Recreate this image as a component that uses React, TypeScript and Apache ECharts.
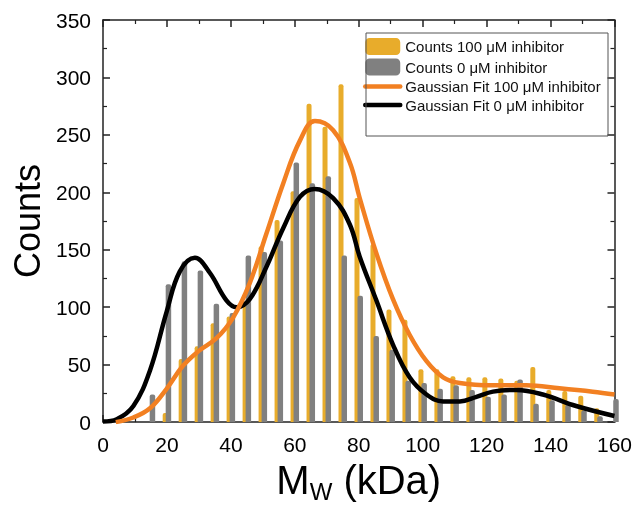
import React, { useEffect, useRef } from "react";
import * as echarts from "echarts";

// Histogram bin centres (kDa)
const binCenters = [15, 20, 25, 30, 35, 40, 45, 50, 55, 60, 65, 70, 75, 80, 85, 90, 95, 100, 105, 110, 115, 120, 125, 130, 135, 140, 145, 150, 155, 160];
// Counts, 100 µM inhibitor
const counts100 = [0, 8, 55, 66, 86, 92, 105, 153, 176, 201, 277, 257, 294, 195, 155, 98, 89, 46, 46, 40, 39, 39, 38, 36, 48, 28, 27, 23, 12, 0];
// Counts, 0 µM inhibitor
const counts0 = [24, 120, 140, 132, 103, 95, 145, 148, 158, 226, 208, 214, 145, 110, 75, 63, 36, 34, 29, 32, 28, 22, 24, 37, 16, 19, 15, 10, 5, 20];

// Gaussian fit, 100 µM inhibitor
const fit100X = [4, 9.5, 14.7, 19.9, 25, 30, 35.5, 40.7, 45.9, 51, 56.4, 61.6, 66.3, 72, 77.2, 80.3, 85.5, 90.7, 95.9, 101.2, 106.4, 111.6, 122, 132.4, 142.8, 153.2, 160];
const fit100Y = [0, 4, 12, 29, 49, 62, 73, 91, 121, 163, 208, 245, 262, 254, 226, 195, 147, 107, 76, 53, 39, 34, 32, 32, 29.5, 26.5, 24];
// Gaussian fit, 0 µM inhibitor
const fit0X = [0, 4.3, 9.5, 14.7, 19.9, 24, 28.75, 33.4, 38.6, 41.8, 45.9, 51.1, 56.4, 61.6, 66.25, 72, 77.2, 80.3, 85.5, 90.7, 95.9, 101.2, 106.4, 111.6, 116.8, 122, 129.3, 137.6, 148, 160];
const fit0Y = [0.5, 2.5, 14, 45, 96, 131, 143, 130, 106, 100, 107, 135, 169, 196, 203, 195, 172, 144, 106, 67.5, 39, 24, 18, 18, 22, 26.5, 28, 24, 14, 5.3];

const xTicks = { min: 0, max: 160, interval: 20 };
const yTicks = { min: 0, max: 350, interval: 50 };

const names = [
  "Counts 100 μM inhibitor",
  "Counts 0 μM inhibitor",
  "Gaussian Fit 100 μM inhibitor",
  "Gaussian Fit 0 μM inhibitor",
];

const FONT = "'Liberation Sans', Arial, sans-serif";
const AXIS_COLOR = "#222";
const ORANGE = "#F28022";

export default function App() {
  const ref = useRef<HTMLDivElement>(null);
  useEffect(() => {
    if (!ref.current) return;
    const chart = echarts.init(ref.current, undefined, { renderer: "svg" });

    const tickCommon = {
      axisLine: { show: true, onZero: false, lineStyle: { color: AXIS_COLOR, width: 1.5 } },
      axisTick: { show: true, inside: true, length: 7, lineStyle: { color: AXIS_COLOR, width: 1.5 } },
      minorTick: { show: true, splitNumber: 2, length: 4, lineStyle: { color: AXIS_COLOR, width: 1.2 } },
      splitLine: { show: false },
      minorSplitLine: { show: false },
    };

    chart.setOption({
      animation: false,
      textStyle: { fontFamily: FONT },
      grid: { left: 103, right: 20, top: 20, bottom: 75, containLabel: false },
      legend: {
        orient: "vertical",
        left: 363,
        top: 38,
        itemWidth: 35,
        itemHeight: 17,
        itemGap: 3.5,
        padding: 0,
        textStyle: { fontFamily: FONT, fontSize: 15, color: "#111" },
        data: [
          { name: names[0], icon: "roundRect" },
          { name: names[1], icon: "roundRect" },
          { name: names[2], itemStyle: { opacity: 0 }, lineStyle: { width: 4.5, color: ORANGE, cap: "round" } },
          { name: names[3], itemStyle: { opacity: 0 }, lineStyle: { width: 4.5, color: "#000", cap: "round" } },
        ],
      },
      graphic: [
        {
          type: "rect",
          shape: { x: 366, y: 33, width: 242, height: 103 },
          style: { fill: "none", stroke: "#555", lineWidth: 1 },
          z: 10,
        },
      ],
      xAxis: [
        {
          type: "value",
          position: "bottom",
          ...xTicks,
          ...tickCommon,
          axisLabel: { fontSize: 21, color: "#000", margin: 12, fontFamily: FONT },
          name: "{a|M}{b|W}{a| (kDa)}",
          nameLocation: "middle",
          nameGap: 33,
          nameTextStyle: {
            rich: {
              a: { fontSize: 40, fontFamily: FONT, color: "#000", lineHeight: 46 },
              b: { fontSize: 24, fontFamily: FONT, color: "#000", lineHeight: 24, verticalAlign: "bottom" },
            },
          },
        },
        {
          type: "value",
          position: "top",
          ...xTicks,
          ...tickCommon,
          axisLabel: { show: false },
        },
      ],
      yAxis: [
        {
          type: "value",
          position: "left",
          ...yTicks,
          ...tickCommon,
          axisLabel: { fontSize: 21, color: "#000", margin: 12, fontFamily: FONT },
          name: "Counts",
          nameLocation: "middle",
          nameGap: 56,
          nameTextStyle: { fontSize: 36, color: "#000", fontFamily: FONT },
        },
        {
          type: "value",
          position: "right",
          ...yTicks,
          ...tickCommon,
          axisLabel: { show: false },
        },
      ],
      series: [
        {
          name: names[0],
          type: "bar",
          data: binCenters.map((x, i) => [x, counts100[i]]),
          barWidth: 5,
          barGap: "-40%",
          itemStyle: { color: "#E8AC2B", borderRadius: [2, 2, 0, 0] },
        },
        {
          name: names[1],
          type: "bar",
          data: binCenters.map((x, i) => [x, counts0[i]]),
          barWidth: 5.5,
          barGap: "-40%",
          itemStyle: { color: "#808080", borderRadius: [2, 2, 0, 0] },
        },
        {
          name: names[3],
          type: "line",
          data: fit0X.map((x, i) => [x, fit0Y[i]]),
          smooth: 0.4,
          symbol: "none",
          lineStyle: { color: "#000", width: 4.5 },
          itemStyle: { color: "#000" },
          z: 3,
        },
        {
          name: names[2],
          type: "line",
          data: fit100X.map((x, i) => [x, fit100Y[i]]),
          smooth: 0.4,
          symbol: "none",
          lineStyle: { color: ORANGE, width: 4.5 },
          itemStyle: { color: ORANGE },
          z: 4,
        },
      ],
    });
    return () => chart.dispose();
  }, []);
  return <div ref={ref} style={{ position: "fixed", left: 0, top: 0, width: 635, height: 508 }} />;
}
